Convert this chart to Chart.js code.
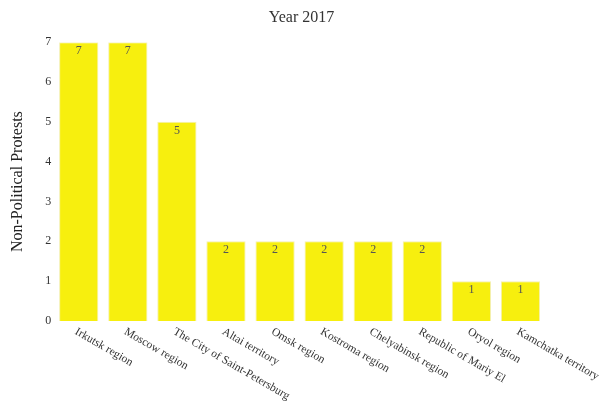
<!DOCTYPE html>
<html>
<head>
<meta charset="utf-8">
<script src="https://cdn.jsdelivr.net/npm/chart.js@4"></script>
<style>
  html, body { margin: 0; padding: 0; background: #fff; }
  #wrap { width: 603px; height: 405px; }
</style>
</head>
<body>
<div id="wrap"><canvas id="myChart" width="603" height="405"></canvas></div>
<script>
// ********* DATA *********
const regions = [
  "Irkutsk region",
  "Moscow region",
  "The City of Saint-Petersburg",
  "Altai territory",
  "Omsk region",
  "Kostroma region",
  "Chelyabinsk region",
  "Republic of Mariy El",
  "Oryol region",
  "Kamchatka territory",
];
const protests = [7, 7, 5, 2, 2, 2, 2, 2, 1, 1];
const yTicks = [0, 1, 2, 3, 4, 5, 6, 7];

const serif = "'Liberation Serif', 'Times New Roman', serif";

// draw value inside top of each bar
const valueLabels = {
  id: "valueLabels",
  afterDatasetsDraw(chart) {
    const ctx = chart.ctx;
    const meta = chart.getDatasetMeta(0);
    ctx.save();
    ctx.font = "12px " + serif;
    ctx.fillStyle = "#555";
    ctx.textAlign = "center";
    ctx.textBaseline = "top";
    meta.data.forEach((bar, i) => {
      ctx.fillText(String(protests[i]), bar.x, bar.y + 3);
    });
    ctx.restore();
  },
};

// rotated category labels running down to the right
const slantLabels = {
  id: "slantLabels",
  afterDraw(chart) {
    const ctx = chart.ctx;
    const xScale = chart.scales.x;
    ctx.save();
    ctx.font = "11.5px " + serif;
    ctx.fillStyle = "#333";
    ctx.textAlign = "left";
    ctx.textBaseline = "top";
    regions.forEach((label, i) => {
      const x = xScale.getPixelForTick(i);
      ctx.save();
      ctx.translate(x, xScale.top + 5);
      ctx.rotate(Math.PI / 6);
      ctx.fillText(label, 0, 0);
      ctx.restore();
    });
    ctx.restore();
  },
};

const ctx = document.getElementById("myChart");
new Chart(ctx, {
  type: "bar",
  data: {
    labels: regions,
    datasets: [
      {
        label: "Non-Political Protests",
        data: protests,
        backgroundColor: "#f7ef0e",
        borderColor: "#f4f0b0",
        borderWidth: 1,
        barPercentage: 1,
        categoryPercentage: 0.8,
      },
    ],
  },
  options: {
    responsive: false,
    animation: false,
    layout: {
      padding: { left: 0, right: 0, top: 0, bottom: 76 },
    },
    plugins: {
      legend: { display: false },
      tooltip: { enabled: false },
      title: {
        display: true,
        text: "Year 2017",
        color: "#333",
        font: { family: serif, size: 16, weight: "normal" },
        padding: { top: 8, bottom: 15 },
      },
    },
    scales: {
      x: {
        grid: { display: false },
        border: { display: false },
        ticks: { display: false },
      },
      y: {
        min: 0,
        max: 7,
        afterBuildTicks: (axis) => {
          axis.ticks = yTicks.map((v) => ({ value: v }));
        },
        grid: { display: false, drawTicks: false },
        border: { display: false },
        ticks: {
          color: "#333",
          padding: 3,
          font: { family: serif, size: 12 },
        },
        title: {
          display: true,
          text: "Non-Political Protests",
          color: "#222",
          font: { family: serif, size: 16 },
          padding: { top: 8, bottom: 15 },
        },
      },
      // empty right axis, keeps room for the slanted labels
      yRight: {
        position: "right",
        grid: { display: false, drawTicks: false },
        border: { display: false },
        ticks: { display: false },
        afterFit: (axis) => {
          axis.width = 58;
        },
      },
    },
  },
  plugins: [valueLabels, slantLabels],
});
</script>
</body>
</html>
